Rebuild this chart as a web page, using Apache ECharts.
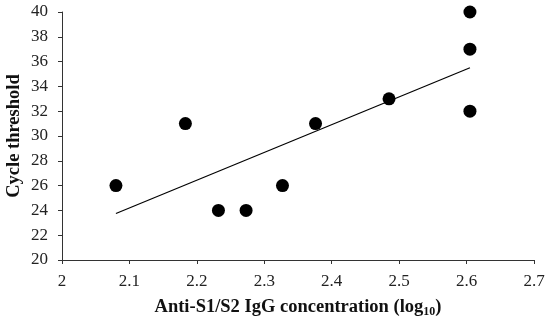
<!DOCTYPE html>
<html>
<head>
<meta charset="utf-8">
<script src="https://cdn.jsdelivr.net/npm/echarts@6/dist/echarts.min.js"></script>
<style>html,body{margin:0;padding:0;background:#fff}#c{width:550px;height:327px}</style>
</head>
<body>
<div id="c"></div>
<script>
// Data
var concLog10 = [2.08, 2.183, 2.232, 2.273, 2.327, 2.376, 2.485, 2.605, 2.605, 2.605];
var cycleThreshold = [26, 31, 24, 24, 26, 31, 33, 40, 37, 32];
var trendX = [2.08, 2.605];
var trendY = [23.75, 35.5];
var xTicks = [2, 2.1, 2.2, 2.3, 2.4, 2.5, 2.6, 2.7];
var yTicks = [20, 22, 24, 26, 28, 30, 32, 34, 36, 38, 40];

var points = concLog10.map(function (x, i) { return [x, cycleThreshold[i]]; });
var trend = trendX.map(function (x, i) { return [x, trendY[i]]; });

var font = 'Liberation Serif';
var chart = echarts.init(document.getElementById('c'), null, { renderer: 'canvas' });
chart.setOption({
  animation: false,
  backgroundColor: '#fff',
  grid: { left: 62, right: 16, top: 12, bottom: 67, containLabel: false, outerBoundsMode: 'none' },
  xAxis: {
    type: 'value', min: xTicks[0], max: xTicks[xTicks.length - 1], interval: 0.1,
    axisLine: { show: true, lineStyle: { color: '#333', width: 1 } },
    axisTick: { show: true, length: 4, inside: false, lineStyle: { color: '#333' } },
    splitLine: { show: false },
    axisLabel: { color: '#222', fontFamily: font, fontSize: 17, margin: 13,
      formatter: function (v) { return String(Math.round(v * 10) / 10); } },
    name: '{b|Anti-S1/S2 IgG concentration (log}{s|10}{b|)}',
    nameLocation: 'middle', nameGap: 37,
    nameTextStyle: {
      rich: {
        b: { fontFamily: font, fontWeight: 'bold', fontSize: 18.5, color: '#111' },
        s: { fontFamily: font, fontWeight: 'bold', fontSize: 12, color: '#111', padding: [9, 0, 0, 0] }
      }
    }
  },
  yAxis: {
    type: 'value', min: yTicks[0], max: yTicks[yTicks.length - 1], interval: 2,
    axisLine: { show: true, lineStyle: { color: '#333', width: 1 } },
    axisTick: { show: true, length: 4, inside: false, lineStyle: { color: '#333' } },
    splitLine: { show: false },
    axisLabel: { color: '#222', fontFamily: font, fontSize: 17, margin: 14 },
    name: 'Cycle threshold', nameLocation: 'middle', nameGap: 38, nameRotate: 90,
    nameMoveOverlap: false,
    nameTextStyle: { fontFamily: font, fontWeight: 'bold', fontSize: 18.5, color: '#111' }
  },
  series: [
    { type: 'line', data: trend, symbol: 'none', lineStyle: { color: '#000', width: 1.2 }, z: 1 },
    { type: 'scatter', data: points, symbol: 'circle', symbolSize: 13, itemStyle: { color: '#000', opacity: 1 }, z: 2 }
  ]
});
</script>
</body>
</html>
